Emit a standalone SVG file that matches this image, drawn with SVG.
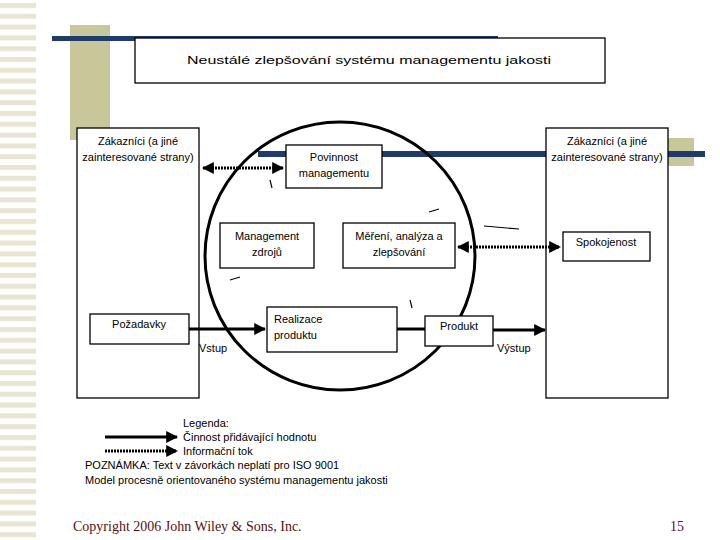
<svg xmlns="http://www.w3.org/2000/svg" width="720" height="540" viewBox="0 0 720 540">
<defs>
<pattern id="st" width="36" height="10.8" patternUnits="userSpaceOnUse"><rect width="36" height="10.8" fill="#fff"/><rect y="3" width="36" height="5" fill="#e8e6d2"/></pattern>
<marker id="ah" viewBox="0 0 10 10" refX="9" refY="5" markerWidth="4" markerHeight="4" orient="auto-start-reverse"><path d="M0,0 L10,5 L0,10 z" fill="#000"/></marker>
</defs>
<style>
text{font-family:"Liberation Sans",Arial,sans-serif;font-size:11px;fill:#000}
.b{fill:#fff;stroke:#000;stroke-width:1.3}
.s{stroke:#000;stroke-width:3;fill:none}
.d{stroke:#000;stroke-width:3;fill:none;stroke-dasharray:2,1}
.t{stroke:#000;stroke-width:1.2}
.c{text-anchor:middle}
</style>
<rect width="720" height="540" fill="#fff"/>
<rect x="0" y="0" width="36" height="540" fill="url(#st)"/>
<rect x="70" y="25" width="40" height="115" fill="#c8c79a"/>
<rect x="52" y="36" width="446" height="5" fill="#1f3b6b"/>
<rect x="668" y="138" width="26" height="28" fill="#c8c79a"/>
<rect x="258" y="151" width="447" height="6" fill="#1f3b6b"/>
<g id="title"><rect class="b" x="135" y="38" width="470" height="45"/><text x="187" y="64" font-size="14" textLength="364" lengthAdjust="spacingAndGlyphs">Neustálé zlepšování systému managementu jakosti</text></g>
<g id="zakaznici-l"><rect class="b" x="77" y="128" width="122" height="270"/><text class="c" x="138" y="145">Zákazníci (a jiné</text><text class="c" x="138" y="161">zainteresované strany)</text></g>
<g id="zakaznici-r"><rect class="b" x="546" y="128" width="122" height="270"/><text class="c" x="607" y="145">Zákazníci (a jiné</text><text class="c" x="607" y="161">zainteresované strany)</text></g>
<g id="cycle"><ellipse cx="340" cy="256" rx="135" ry="134" fill="none" stroke="#000" stroke-width="3"/></g>
<g id="povinnost"><rect class="b" x="286" y="145" width="96" height="43"/><text class="c" x="334" y="161">Povinnost</text><text class="c" x="334" y="177">managementu</text></g>
<g id="zdroje"><rect class="b" x="220" y="223" width="94" height="45"/><text class="c" x="267" y="240">Management</text><text class="c" x="267" y="256">zdrojů</text></g>
<g id="mereni"><rect class="b" x="343" y="223" width="112" height="45"/><text class="c" x="399" y="240">Měření, analýza a</text><text class="c" x="399" y="256">zlepšování</text></g>
<g id="spokojenost"><rect class="b" x="563" y="232" width="87" height="29"/><text class="c" x="606" y="246">Spokojenost</text></g>
<g id="pozadavky"><rect class="b" x="90" y="314" width="99" height="30"/><text class="c" x="139" y="328">Požadavky</text></g>
<g id="realizace"><rect class="b" x="267" y="307" width="130" height="45"/><text x="274" y="323">Realizace</text><text x="274" y="339">produktu</text></g>
<g id="produkt"><rect class="b" x="425" y="316" width="68" height="30"/><text class="c" x="459" y="330">Produkt</text></g>
<g id="connectors">
<line class="d" x1="203" y1="168" x2="283" y2="168" marker-start="url(#ah)" marker-end="url(#ah)"/>
<line class="d" x1="458" y1="247" x2="560" y2="247" marker-start="url(#ah)" marker-end="url(#ah)"/>
<line class="s" x1="189" y1="329" x2="265" y2="329" marker-end="url(#ah)"/>
<line class="s" x1="397" y1="329" x2="425" y2="329"/>
<line class="s" x1="493" y1="330" x2="545" y2="330" marker-end="url(#ah)"/>
<line class="t" x1="270" y1="180" x2="272" y2="188"/>
<line class="t" x1="429" y1="212" x2="439" y2="209"/>
<line class="t" x1="484" y1="226" x2="519" y2="229"/>
<line class="t" x1="230" y1="280" x2="240" y2="277"/>
<line class="t" x1="410" y1="300" x2="412" y2="308"/>
</g>
<text x="199" y="352">Vstup</text>
<text x="497" y="352">Výstup</text>
<g id="legend">
<text x="183" y="427">Legenda:</text>
<line class="s" x1="105" y1="437" x2="177" y2="437" marker-end="url(#ah)"/>
<text x="183" y="441">Činnost přidávající hodnotu</text>
<line class="d" x1="105" y1="451" x2="177" y2="451" marker-end="url(#ah)"/>
<text x="183" y="455">Informační tok</text>
<text x="85" y="469">POZNÁMKA: Text v závorkách neplatí pro ISO 9001</text>
<text x="85" y="484">Model procesně orientovaného systému managementu jakosti</text>
</g>
<text x="73" y="531" style="font-family:'Liberation Serif',serif;font-size:14px;fill:#5a0f0f">Copyright 2006 John Wiley &amp; Sons, Inc.</text>
<text x="670" y="531" style="font-family:'Liberation Serif',serif;font-size:14px;fill:#5a0f0f">15</text>
</svg>
